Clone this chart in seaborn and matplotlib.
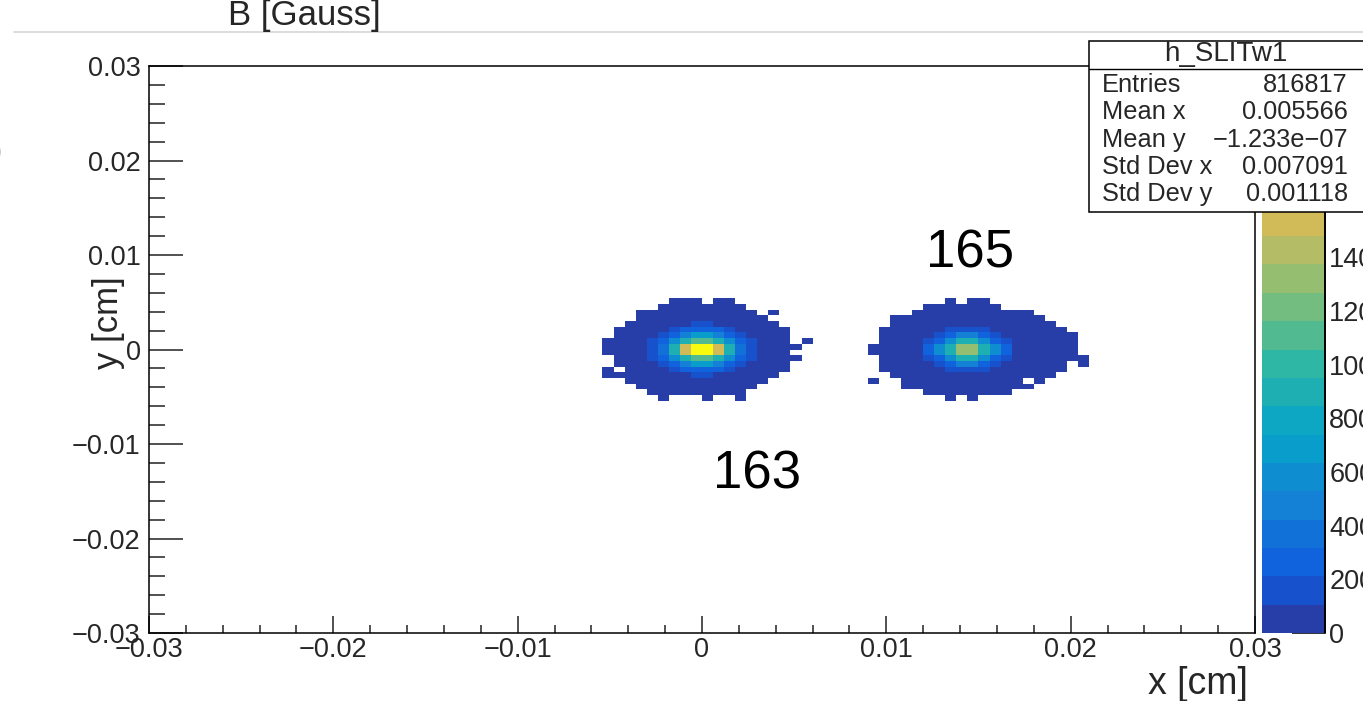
import numpy as np
import matplotlib
matplotlib.use("Agg")
import matplotlib.pyplot as plt
from matplotlib.colors import ListedColormap, BoundaryNorm, LinearSegmentedColormap
from matplotlib.lines import Line2D
from matplotlib.patches import Rectangle
import seaborn as sns

# ---------------- data ----------------
X_MIN, X_MAX, N_BINS = -0.03, 0.03, 100
Z_MAX = 2112
N_CONTOURS = 20

# blob "163": outline rows  j -> [(i_start, i_end), ...]  (bins of 0.0006 cm)
blob163_rows = {
    58: [(47, 49), (51, 52)],
    57: [(46, 53)],
    56: [(44, 54), (56, 56)],
    55: [(44, 55)],
    54: [(43, 56)],
    53: [(42, 57)],
    52: [(42, 57)],
    51: [(41, 57), (59, 59)],
    50: [(41, 58)],
    49: [(41, 57)],
    48: [(42, 58)],
    47: [(42, 57)],
    46: [(41, 41), (43, 57)],
    45: [(41, 56)],
    44: [(43, 55)],
    43: [(44, 54)],
    42: [(45, 53)],
    41: [(46, 46), (50, 50), (53, 53)],
}
blob163_rim = 40
blob163_core_i0 = 45
blob163_core_rows = [54, 53, 52, 51, 50, 49, 48, 47, 46, 45]
blob163_core = [
    [0, 0, 0, 0, 150, 150, 0, 0, 0, 0],
    [0, 0, 150, 250, 300, 300, 250, 150, 0, 0],
    [0, 150, 250, 450, 650, 650, 450, 250, 150, 0],
    [120, 250, 550, 900, 1150, 1150, 900, 550, 250, 120],
    [160, 400, 850, 1530, 2112, 2080, 1530, 850, 400, 160],
    [160, 400, 850, 1530, 2060, 2030, 1530, 850, 400, 160],
    [120, 250, 550, 900, 1150, 1150, 900, 550, 250, 120],
    [0, 150, 250, 450, 650, 650, 450, 250, 150, 0],
    [0, 0, 150, 250, 300, 300, 250, 150, 0, 0],
    [0, 0, 0, 0, 150, 150, 0, 0, 0, 0],
]

# blob "165"
blob165_rows = {
    58: [(72, 72), (74, 75)],
    57: [(70, 76)],
    56: [(69, 79)],
    55: [(67, 80)],
    54: [(67, 81)],
    53: [(66, 82)],
    52: [(66, 83)],
    51: [(66, 83)],
    50: [(65, 83)],
    49: [(65, 83)],
    48: [(66, 84)],
    47: [(66, 82), (84, 84)],
    46: [(66, 82)],
    45: [(67, 81)],
    44: [(65, 65), (68, 78), (80, 80)],
    43: [(68, 79)],
    42: [(70, 77)],
    41: [(72, 72), (74, 74)],
}
blob165_rim = 40
blob165_core_i0 = 70
blob165_core_rows = [53, 52, 51, 50, 49, 48, 47, 46]
blob165_core = [
    [0, 0, 150, 200, 200, 150, 0, 0],
    [0, 150, 300, 450, 450, 300, 150, 0],
    [150, 300, 550, 850, 850, 550, 300, 150],
    [250, 550, 850, 1320, 1320, 850, 550, 250],
    [250, 550, 850, 1320, 1300, 850, 550, 250],
    [150, 300, 550, 850, 850, 550, 300, 150],
    [0, 150, 300, 450, 450, 300, 150, 0],
    [0, 0, 150, 200, 200, 150, 0, 0],
]

x_major = [-0.03, -0.02, -0.01, 0.0, 0.01, 0.02, 0.03]
x_major_labels = ["\u22120.03", "\u22120.02", "\u22120.01", "0", "0.01", "0.02", "0.03"]
y_major = [-0.03, -0.02, -0.01, 0.0, 0.01, 0.02, 0.03]
y_major_labels = ["\u22120.03", "\u22120.02", "\u22120.01", "0", "0.01", "0.02", "0.03"]
cbar_ticks = [0, 200, 400, 600, 800, 1000, 1200, 1400]

stat_title = "h_SLITw1"
stat_names = ["Entries", "Mean x", "Mean y", "Std Dev x", "Std Dev y"]
stat_values = ["816817", "0.005566", "\u22121.233e\u221207", "0.007091", "0.001118"]

labels_text = ["163", "165"]
labels_xy = [(0.00298, -0.01265), (0.01454, 0.01074)]

# ---------------- build histogram ----------------
Z = np.full((N_BINS, N_BINS), np.nan)
for rows, rim, i0, crows, core in [
    (blob163_rows, blob163_rim, blob163_core_i0, blob163_core_rows, blob163_core),
    (blob165_rows, blob165_rim, blob165_core_i0, blob165_core_rows, blob165_core),
]:
    for j, segs in rows.items():
        for a, b in segs:
            Z[j, a:b + 1] = rim
    for r, j in enumerate(crows):
        for c, v in enumerate(core[r]):
            if v > 0:
                Z[j, i0 + c] = v

BIN_W = (X_MAX - X_MIN) / N_BINS
def to_bin(v):
    return (v - X_MIN) / BIN_W

# ROOT kBird palette, 20 contour levels
stops = [0.0, 0.125, 0.25, 0.375, 0.5, 0.625, 0.75, 0.875, 1.0]
red = [0.2082, 0.0592, 0.0780, 0.0232, 0.1802, 0.5301, 0.8186, 0.9956, 0.9764]
green = [0.1664, 0.3599, 0.5041, 0.6419, 0.7178, 0.7492, 0.7328, 0.7862, 0.9832]
blue = [0.5293, 0.8684, 0.8385, 0.7914, 0.6425, 0.4662, 0.3499, 0.1968, 0.0539]
bird = LinearSegmentedColormap.from_list(
    "bird", [(s, (r, g, b)) for s, r, g, b in zip(stops, red, green, blue)], N=255)
level_colors = [bird(int((k + 0.99) * 255 / N_CONTOURS) / 254.0) for k in range(N_CONTOURS)]
cmap = ListedColormap(level_colors)
norm = BoundaryNorm(np.linspace(0, Z_MAX, N_CONTOURS + 1), N_CONTOURS)

# ---------------- figure ----------------
sns.set_style("white")
plt.rcParams["font.family"] = ["Liberation Sans", "DejaVu Sans"]
W, H = 1363, 701
fig = plt.figure(figsize=(W / 100, H / 100), dpi=100)
ax = fig.add_axes([149 / W, 1 - 633 / H, (1255 - 149) / W, (633 - 66) / H])
cax = fig.add_axes([1262 / W, 1 - 633 / H, 63 / W, (633 - 66) / H])

sns.heatmap(Z, ax=ax, cbar_ax=cax, cmap=cmap, norm=norm, cbar=True,
            xticklabels=False, yticklabels=False)
ax.set_xlim(0, N_BINS)
ax.set_ylim(0, N_BINS)
ax.set_xlabel("")
ax.set_ylabel("")
for s in ax.spines.values():
    s.set_visible(True)
    s.set_color("black")
    s.set_linewidth(1.1)

TICK_FS = 19.5
ax.set_xticks([to_bin(v) for v in x_major])
ax.set_xticklabels(x_major_labels)
ax.set_xticks([to_bin(v) for v in np.arange(-0.03, 0.0301, 0.002)], minor=True)
ax.set_yticks([to_bin(v) for v in y_major])
ax.set_yticklabels(y_major_labels, rotation=0)
ax.set_yticks([to_bin(v) for v in np.arange(-0.03, 0.0301, 0.002)], minor=True)
ax.tick_params(axis="x", which="major", direction="in", length=12, width=1.1,
               labelsize=TICK_FS, pad=3, bottom=True, top=False, color="#222222")
ax.tick_params(axis="x", which="minor", direction="in", length=6, width=1.1,
               bottom=True, top=False, color="#222222")
ax.tick_params(axis="y", which="major", direction="in", length=24.5, width=1.1,
               labelsize=TICK_FS, pad=6, left=True, right=False, color="#222222")
ax.tick_params(axis="y", which="minor", direction="in", length=11.5, width=1.1,
               left=True, right=False, color="#222222")

cb = ax.collections[0].colorbar
cb.outline.set_visible(False)
cb.set_ticks(cbar_ticks)
cb.set_ticklabels([str(t) for t in cbar_ticks])
cb.minorticks_off()
cax.tick_params(axis="y", direction="in", length=24, width=1.2, labelsize=TICK_FS,
                pad=3, right=True, left=False, color="#111111")
cax.plot([1, 1], [0, 1], transform=cax.transAxes, color="black", lw=1.4,
         clip_on=False)

for txt, (vx, vy) in zip(labels_text, labels_xy):
    ax.text(to_bin(vx), to_bin(vy), txt, fontsize=38, ha="center",
            va="center_baseline", color="black")

# axis titles
fig.text(1248 / W, 1 - 684 / H, "x [cm]", ha="right", va="center", fontsize=27)
fig.text(109 / W, 1 - 323 / H, "y [cm]", ha="center", va="center",
         rotation=90, fontsize=25)

# title and pad edge
fig.text(228 / W, 1 - 25 / H, "B [Gauss]", ha="left", va="baseline", fontsize=25)
fig.add_artist(Line2D([14 / W, 1.0], [1 - 32 / H, 1 - 32 / H], color="#d6d6d6", lw=1.2))
fig.text(-11 / W, 1 - 152 / H, ")", ha="left", va="center", fontsize=30)

# stats box
fig.add_artist(Rectangle((1089 / W, 1 - 212 / H), (1400 - 1089) / W, (212 - 41) / H,
                         transform=fig.transFigure, facecolor="white",
                         edgecolor="black", lw=1.1, zorder=5, clip_on=False))
fig.add_artist(Line2D([1089 / W, 1.0], [1 - 69 / H, 1 - 69 / H], color="black",
                      lw=1.0, zorder=6))
fig.text(1226 / W, 1 - 54 / H, stat_title, ha="center", va="center", fontsize=20, zorder=7)
row_y = [85, 112, 140, 167, 194]
for name, val, yy in zip(stat_names, stat_values, row_y):
    fig.text(1102 / W, 1 - yy / H, name, ha="left", va="center", fontsize=18.3, zorder=7)
    fig.text(1348 / W, 1 - yy / H, val, ha="right", va="center", fontsize=18.3, zorder=7)

fig.savefig("out.png", dpi=100)
